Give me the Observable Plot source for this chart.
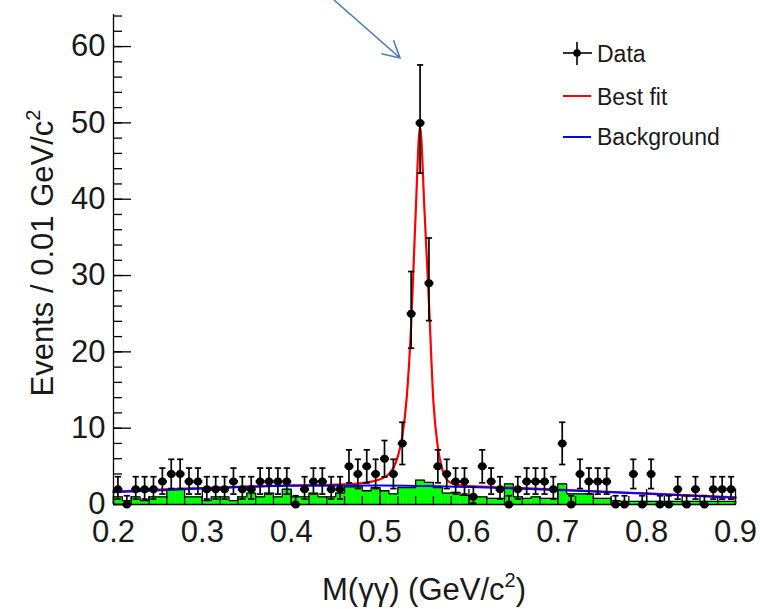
<!DOCTYPE html>
<html><head><meta charset="utf-8">
<script src="https://cdn.jsdelivr.net/npm/d3@7"></script>
<script src="https://cdn.jsdelivr.net/npm/@observablehq/plot@0.6"></script>
<style>
body{margin:0;background:#fff;}
#chart{position:relative;width:760px;height:609px;}
</style></head><body><div id="chart"></div>
<script>
// ---- data ----
const binCenters = [0.205,0.215,0.225,0.235,0.245,0.255,0.265,0.275,0.285,0.295,
  0.305,0.315,0.325,0.335,0.345,0.355,0.365,0.375,0.385,0.395,
  0.405,0.415,0.425,0.435,0.445,0.455,0.465,0.475,0.485,0.495,
  0.505,0.515,0.525,0.535,0.545,0.555,0.565,0.575,0.585,0.595,
  0.605,0.615,0.625,0.635,0.645,0.655,0.665,0.675,0.685,0.695,
  0.705,0.715,0.725,0.735,0.745,0.755,0.765,0.775,0.785,0.795,
  0.805,0.815,0.825,0.835,0.845,0.855,0.865,0.875,0.885,0.895];
const counts = [2,0,2,2,2,3,4,4,3,3,
  2,2,2,3,2,2,3,3,3,3,
  0,2,3,3,2,2,5,4,5,4,
  6,4,8,25,50,29,5,4,3,3,
  1,5,3,2,0,2,3,3,3,2,
  8,0,4,3,3,3,0,0,4,0,
  4,0,0,2,0,2,0,2,2,2];
const mcBackground = [1,0.5,1,0.5,1,1,2,2,1,1,
  0.5,1,1,0.5,1,1.5,1,1.5,1,2,
  1,1,1.5,1,1,1.5,2.3,2.3,1.8,2.2,
  1.8,1.4,2.2,2.2,3.2,2.9,2.2,1.5,1.6,1.2,
  1,1,0.8,0.8,2.7,1,0.8,1,0.8,0.8,
  2.7,1.4,1.4,1.4,0.8,0.8,0.5,0.4,0.4,0.4,
  0.4,0.4,0.4,0.4,0.4,0.4,0.4,0.4,0.4,0.4];
const binWidth = 0.01;
// Poisson 68% intervals for small counts
const poissonLo = [0,0.173,0.708,1.367,2.086,2.84,3.62,4.42,5.24];
const poissonHi = [1.148,2.30,3.64,4.77,5.92,7.16,8.38,9.58,10.77];

const fitX = [0.20,0.25,0.30,0.35,0.40,0.45,0.47,0.48,0.49,0.50,0.51,0.515,0.52,0.525,0.53,0.535,0.54,0.545,0.55,0.555,0.56,0.565,0.57,0.575,0.58,0.59,0.60,0.65,0.70,0.75,0.80,0.85,0.90];
const fitY = [1.7,1.95,2.15,2.35,2.5,2.6,2.7,2.8,3.0,3.3,4.0,4.8,6.3,8.9,14,23.5,38,49.5,38.5,26.5,13.5,7.5,4.6,3.3,2.8,2.5,2.4,2.2,1.95,1.7,1.45,1.2,0.95];
const bkgX = [0.2,0.3,0.4,0.5,0.6,0.7,0.8,0.9];
const bkgY = [1.6,2.1,2.45,2.5,2.3,1.9,1.4,0.9];

const xTicks = [0.2,0.3,0.4,0.5,0.6,0.7,0.8,0.9];
const xMinorTicks = d3.range(0.2, 0.9001, 0.02);
const yTicks = [0,10,20,30,40,50,60];
const yMinorTicks = d3.range(0, 64.1, 2);

// ---- derived tables ----
const points = binCenters.map((x, i) => {
  const n = counts[i];
  const lo = n < poissonLo.length ? poissonLo[n] : n + 0.5 - Math.sqrt(n + 0.25);
  const hi = n < poissonHi.length ? poissonHi[n] : n + 0.5 + Math.sqrt(n + 0.25);
  return {x, n, lo, hi};
});
const hist = binCenters.map((x, i) => ({x1: x - binWidth/2, x2: x + binWidth/2, v: mcBackground[i]}));
const histStep = [{x: hist[0].x1, v: 0}, ...hist.map(d => ({x: d.x1, v: d.v})),
  {x: hist[hist.length-1].x2, v: hist[hist.length-1].v}, {x: hist[hist.length-1].x2, v: 0}];
const fit = fitX.map((x, i) => ({x, y: fitY[i]}));
const bkg = bkgX.map((x, i) => ({x, y: bkgY[i]}));

const W = 760, H = 609, mL = 113, mR = 25, mT = 14, mB = 105;
const innerW = W - mL - mR, innerH = H - mT - mB;
const FONT = "'Liberation Sans', Arial, Helvetica, sans-serif";

const svg = Plot.plot({
  width: W, height: H,
  marginLeft: mL, marginRight: mR, marginTop: mT, marginBottom: mB,
  style: {fontFamily: FONT, fontSize: "31px", color: "#1a1a1a", background: "white", overflow: "visible"},
  x: {domain: [0.2, 0.9], label: null},
  y: {domain: [0, 64.2], label: null},
  marks: [
    Plot.rectY(hist, {x1: "x1", x2: "x2", y: "v", fill: "#00ff00"}),
    Plot.line(histStep, {x: "x", y: "v", curve: "step-after", stroke: "black", strokeWidth: 1.3}),
    Plot.line(fit, {x: "x", y: "y", curve: "monotone-x", stroke: "#ff0000", strokeWidth: 2.2}),
    Plot.line(bkg, {x: "x", y: "y", curve: "monotone-x", stroke: "#0000ff", strokeWidth: 2}),
    Plot.ruleX(points, {x: "x", y1: "lo", y2: "hi", stroke: "black", strokeWidth: 1.7}),
    Plot.link(points, {x1: d => d.x - 0.0035, x2: d => d.x + 0.0035, y1: "hi", y2: "hi", stroke: "black", strokeWidth: 1.7}),
    Plot.link(points.filter(d => d.n > 0), {x1: d => d.x - 0.0035, x2: d => d.x + 0.0035, y1: "lo", y2: "lo", stroke: "black", strokeWidth: 1.7}),
    Plot.link(points, {x1: d => d.x - 0.005, x2: d => d.x + 0.005, y1: "n", y2: "n", stroke: "black", strokeWidth: 3}),
    Plot.dot(points, {x: "x", y: "n", r: 4, fill: "black"}),
    Plot.ruleY([0], {stroke: "black", strokeWidth: 1.3}),
    Plot.ruleX([0.2], {stroke: "black", strokeWidth: 1.3}),
    Plot.tickY(yMinorTicks, {y: d => d, insetRight: innerW - 9, stroke: "black", strokeWidth: 1.3}),
    Plot.tickY(yTicks, {y: d => d, insetRight: innerW - 18, stroke: "black", strokeWidth: 1.3}),
    Plot.tickX(xMinorTicks, {x: d => d, insetTop: innerH - 8, stroke: "black", strokeWidth: 1.3}),
    Plot.tickX(xTicks, {x: d => d, insetTop: innerH - 15, stroke: "black", strokeWidth: 1.3}),
    Plot.axisY({ticks: yTicks, tickSize: 0, tickPadding: 8, label: null, tickFormat: d => String(d)}),
    Plot.axisX({ticks: xTicks, tickSize: 0, tickPadding: 15, label: null, tickFormat: d3.format(".1f")})
  ]
});

const s = d3.select(svg);
// axis titles
const yt = s.append("text").attr("transform", "translate(53,253) rotate(-90)")
  .attr("text-anchor", "middle").attr("font-size", 31).attr("fill", "#1a1a1a").attr("font-family", FONT);
yt.append("tspan").text("Events / 0.01 GeV/c");
yt.append("tspan").attr("font-size", 20).attr("dy", -13).text("2");
const xt = s.append("text").attr("x", 424).attr("y", 600)
  .attr("text-anchor", "middle").attr("font-size", 31).attr("fill", "#1a1a1a").attr("font-family", FONT);
xt.append("tspan").text("M(γγ) (GeV/c");
xt.append("tspan").attr("font-size", 20).attr("dy", -13).text("2");
xt.append("tspan").attr("dy", 13).text(")");

// legend
const lg = s.append("g").attr("font-family", FONT).attr("font-size", 23).attr("fill", "#1a1a1a").attr("text-anchor", "start");
lg.append("line").attr("x1", 563).attr("x2", 592).attr("y1", 53).attr("y2", 53).attr("stroke", "black").attr("stroke-width", 1.6);
lg.append("line").attr("x1", 577).attr("x2", 577).attr("y1", 42).attr("y2", 65).attr("stroke", "black").attr("stroke-width", 1.6);
lg.append("circle").attr("cx", 577).attr("cy", 53).attr("r", 3.8).attr("fill", "black");
lg.append("text").attr("x", 597).attr("y", 62).attr("text-anchor", "start").text("Data");
lg.append("line").attr("x1", 563).attr("x2", 591).attr("y1", 96).attr("y2", 96).attr("stroke", "#ff0000").attr("stroke-width", 2);
lg.append("text").attr("x", 597).attr("y", 105).attr("text-anchor", "start").text("Best fit");
lg.append("line").attr("x1", 563).attr("x2", 591).attr("y1", 137).attr("y2", 137).attr("stroke", "#0000ff").attr("stroke-width", 2);
lg.append("text").attr("x", 597).attr("y", 145).attr("text-anchor", "start").text("Background");

// annotation arrow pointing to the peak
const tip = [400, 58], start = [334, 0];
const ang = Math.atan2(tip[1] - start[1], tip[0] - start[0]);
const armLen = 19, spread = 0.5;
const a1 = [tip[0] - armLen * Math.cos(ang - spread), tip[1] - armLen * Math.sin(ang - spread)];
const a2 = [tip[0] - armLen * Math.cos(ang + spread), tip[1] - armLen * Math.sin(ang + spread)];
s.append("path")
  .attr("d", `M${start[0]},${start[1]}L${tip[0]},${tip[1]}M${a1[0]},${a1[1]}L${tip[0]},${tip[1]}L${a2[0]},${a2[1]}`)
  .attr("fill", "none").attr("stroke", "#4a7ebb").attr("stroke-width", 1.6);

document.getElementById("chart").appendChild(svg);
</script>
</body></html>
